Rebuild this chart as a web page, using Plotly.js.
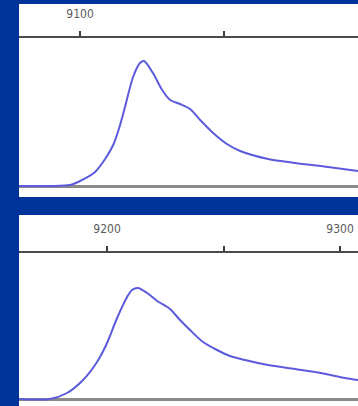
<!DOCTYPE html>
<html>
<head>
<meta charset="utf-8">
<script src="https://cdn.plot.ly/plotly-3.0.1.min.js"></script>
<style>html,body{margin:0;padding:0;background:#003399;}#chart{width:358px;height:406px;}</style>
</head>
<body>
<div id="chart"></div>
<script>
// Top panel spectrum
var topX = [9078.8, 9089.6, 9096.5, 9100.0, 9105.2, 9108.7, 9111.5, 9113.9, 9115.6, 9118.4, 9120.8, 9122.2, 9125.3, 9128.5, 9131.3, 9134.7, 9138.2, 9141.7, 9146.2, 9151.0, 9155.6, 9165.3, 9174.7, 9186.1, 9196.5];
var topY = [0, 0, 1, 5, 14, 27, 41, 61, 79, 109, 123, 125, 113, 96, 86, 82, 77, 66, 53, 42, 35, 27, 23, 19, 15];
// Bottom panel spectrum
var botX = [9162.2, 9175.5, 9182.8, 9189.7, 9195.7, 9200.0, 9204.3, 9208.6, 9210.7, 9213.3, 9217.2, 9221.5, 9227.0, 9231.3, 9235.6, 9241.2, 9247.2, 9252.8, 9259.2, 9269.1, 9280.7, 9291.8, 9302.1, 9307.7];
var botY = [0, 0, 6, 19, 37, 56, 81, 102, 109, 111, 106, 98, 90, 79, 69, 57, 49, 43, 39, 34, 30, 26, 21, 19];
// Tick labels
var topTickVals = [9100, 9150, 9200];
var topTickText = ["9100", "", "9200"];
var botTickVals = [9200, 9250, 9300];
var botTickText = ["9200", "", "9300"];

var lineStyle = {color: '#5b5bdc', width: 2, shape: 'spline', smoothing: 0.8};
var traces = [
  {x: topX, y: topY, xaxis: 'x', yaxis: 'y', mode: 'lines', line: lineStyle, hoverinfo: 'skip'},
  {x: botX, y: botY, xaxis: 'x2', yaxis: 'y2', mode: 'lines', line: lineStyle, hoverinfo: 'skip'}
];

var W = 358, H = 406;
var xdom = [19 / W, 1];
var tickFont = {family: 'DejaVu Sans Condensed, Liberation Sans Narrow, sans-serif', size: 12, color: '#5a5a5a'};
function mainAxis(range, pos, vals, text) {
  return {domain: xdom, range: range, side: 'top', anchor: 'free', position: pos,
    showline: true, linecolor: '#4a4a4a', linewidth: 2, ticks: 'outside', ticklen: 5,
    tickwidth: 2, tickcolor: '#3a3a3a', tickvals: vals, ticktext: text, tickfont: tickFont,
    ticklabelstandoff: 8, showgrid: false, zeroline: false, fixedrange: true};
}
function lowerTicks(over, range, pos, vals) {
  return {overlaying: over, range: range, side: 'bottom', anchor: 'free', position: pos,
    showline: false, ticks: 'outside', ticklen: 4, tickwidth: 2, tickcolor: '#3a3a3a',
    tickvals: vals, showticklabels: false, showgrid: false, zeroline: false, fixedrange: true};
}
function yAxis(dom, range, anchor) {
  return {domain: dom, range: range, anchor: anchor, showticklabels: false, showgrid: false,
    ticks: '', showline: false, zeroline: true, zerolinecolor: '#8a8a8a', zerolinewidth: 3, fixedrange: true};
}
var topRange = [9078.8, 9196.5];
var botRange = [9162.2, 9307.7];
var layout = {
  width: W, height: H,
  margin: {l: 0, r: 0, t: 0, b: 0, pad: 0},
  paper_bgcolor: '#003399',
  plot_bgcolor: '#ffffff',
  showlegend: false,
  xaxis: mainAxis(topRange, 1 - 37 / H, topTickVals, topTickText),
  xaxis2: mainAxis(botRange, 1 - 252 / H, botTickVals, botTickText),
  xaxis3: lowerTicks('x', topRange, 1 - 37 / H, topTickVals),
  xaxis4: lowerTicks('x2', botRange, 1 - 252 / H, botTickVals),
  yaxis: yAxis([1 - 197 / H, 1 - 4 / H], [-11, 182], 'x'),
  yaxis2: yAxis([0, 1 - 215 / H], [-7, 184], 'x2')
};
Plotly.newPlot('chart', traces, layout, {displayModeBar: false, staticPlot: true});
</script>
</body>
</html>
